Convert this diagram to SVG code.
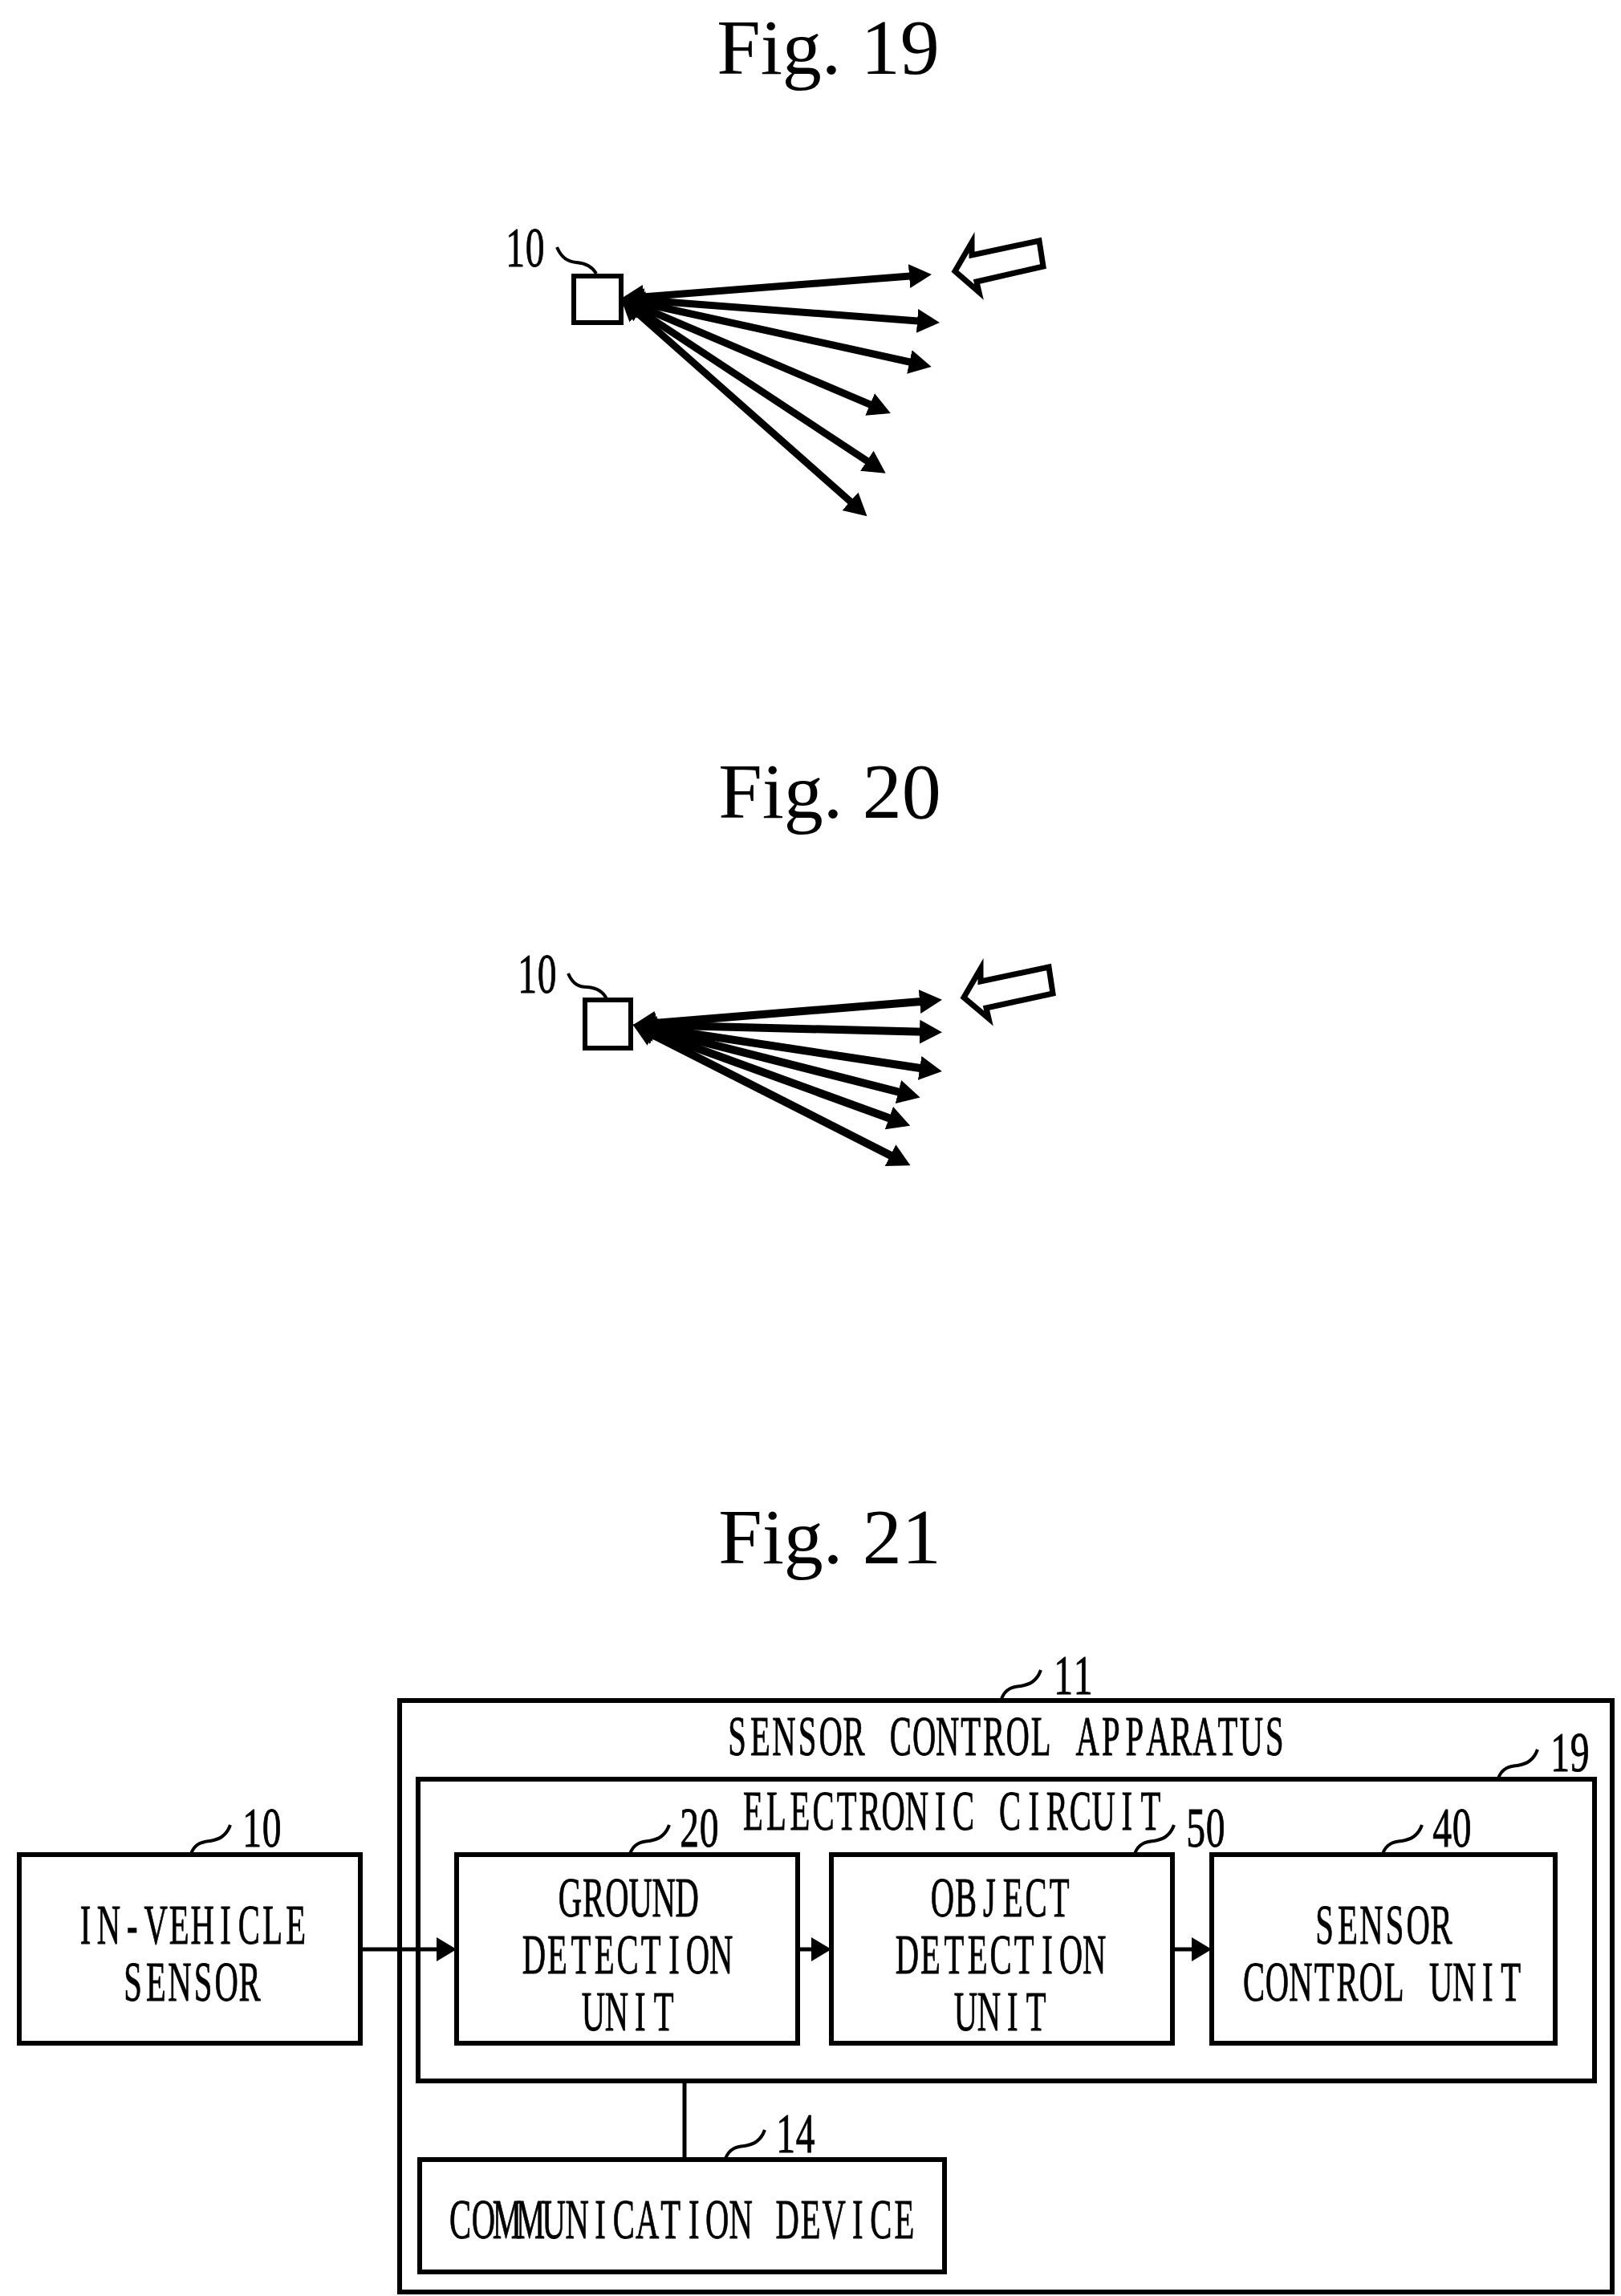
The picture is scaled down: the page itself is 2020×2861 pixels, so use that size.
<svg xmlns="http://www.w3.org/2000/svg" width="2020" height="2861" viewBox="0 0 2020 2861">
<style>
text{font-family:"Liberation Serif","Times New Roman",serif;fill:#000}
.title{font-size:98px;text-anchor:middle}
.lab{font-size:70px;text-anchor:middle;stroke:#000;stroke-width:.9}
.box{fill:none;stroke:#000;stroke-width:6}
.lead{fill:none;stroke:#000;stroke-width:4}
.ray{stroke:#000;stroke-width:9;marker-start:url(#ah);marker-end:url(#ah)}
.thick{stroke-width:10}
.flow{stroke:#000;stroke-width:5;fill:none}
.flowa{marker-end:url(#fh)}
.fat{fill:#fff;stroke:#000;stroke-width:7;stroke-linejoin:miter}
</style>
<defs>
<marker id="ah" markerUnits="userSpaceOnUse" markerWidth="32" markerHeight="32" refX="14" refY="16" orient="auto-start-reverse" viewBox="0 0 32 32"><path d="M0,1 L28,16 L0,31 Z" fill="#000"/></marker>
<marker id="fh" markerUnits="userSpaceOnUse" markerWidth="26" markerHeight="32" refX="0" refY="16" orient="auto" viewBox="0 0 26 32"><path d="M0,1 L25,16 L0,31 Z" fill="#000"/></marker>
<path id="tilde" d="M0,0 C5,-14 15,-15 24,-16 C35,-18 44,-22 49,-36"/>
</defs>
<g id="titles">
<text class="title" x="1032" y="92">Fig. 19</text>
<text class="title" x="1034" y="1019">Fig. 20</text>
<text class="title" x="1034" y="1948">Fig. 21</text>
</g>
<g id="fig19-sensor">
<rect class="box" x="715" y="344" width="59" height="58"/>
<path class="lead" d="M694,308 C700,322 708,326 718,327 C730,328 738,332 743,341"/>
<text class="lab" transform="translate(630,332) scale(.68,1)" x="18 54">10</text>
</g>
<g id="fig19-arrow"><path class="fat" d="M1190,338 L1211,302 L1211,318 L1295,300 L1300,332 L1217,351 L1220,364 Z"/></g>
<g id="fig19-connectors">
<line class="ray" x1="788" y1="371" x2="1147" y2="343"/>
<line class="ray" x1="788" y1="373" x2="1157" y2="401"/>
<line class="ray" x1="788" y1="375" x2="1147" y2="454"/>
<line class="ray" x1="787" y1="377.5" x2="1097" y2="509.5"/>
<line class="ray" x1="786" y1="380" x2="1092" y2="582"/>
<line class="ray" x1="784" y1="381" x2="1070" y2="634"/>
</g>
<g id="fig20-sensor">
<rect class="box" x="729" y="1246" width="57" height="60"/>
<path class="lead" d="M708,1213 C714,1227 722,1230 732,1230 C744,1231 752,1236 756,1245"/>
<text class="lab" transform="translate(645,1237) scale(.68,1)" x="18 54">10</text>
</g>
<g id="fig20-arrow"><path class="fat" d="M1201,1243 L1222,1207 L1222,1223 L1307,1205 L1312,1238 L1229,1256 L1232,1269 Z"/></g>
<g id="fig20-connectors">
<line class="ray thick" x1="803" y1="1276" x2="1160" y2="1247"/>
<line class="ray thick" x1="803" y1="1277" x2="1160" y2="1286"/>
<line class="ray thick" x1="803" y1="1279" x2="1160" y2="1333"/>
<line class="ray thick" x1="803" y1="1280" x2="1133" y2="1364"/>
<line class="ray thick" x1="802" y1="1282" x2="1121" y2="1398"/>
<line class="ray thick" x1="801" y1="1283" x2="1122" y2="1446"/>
</g>
<g id="sensor-control-apparatus">
<rect class="box" x="498" y="2119" width="1511" height="737"/>
<text class="lab" transform="translate(904,2187) scale(.58,1)" x="25 75 125.5 176 226 276 326 376.5 427 477 527 577 628 678 728 778 828 879 929 979 1029 1079 1130 1180">SENSOR CONTROL APPARATUS</text>
<use href="#tilde" x="1248" y="2117" class="lead"/>
<text class="lab" transform="translate(1313,2111) scale(.68,1)" x="18 54">11</text>
</g>
<g id="electronic-circuit">
<rect class="box" x="521" y="2217" width="1466" height="376"/>
<text class="lab" transform="translate(924,2280) scale(.58,1)" x="25 75 125.5 176 226 276 326 376.5 427 477 527 577 628 678 728 778 828 879">ELECTRONIC CIRCUIT</text>
<use href="#tilde" x="1867" y="2216" class="lead"/>
<text class="lab" transform="translate(1932,2207) scale(.68,1)" x="18 54">19</text>
</g>
<g id="in-vehicle-sensor">
<rect class="box" x="24" y="2311" width="425" height="235"/>
<text class="lab" transform="translate(92,2422) scale(.58,1)" x="25 75 125.5 176 226 276 326 376.5 427 477">IN-VEHICLE</text>
<text class="lab" transform="translate(151,2493) scale(.58,1)" x="25 75 125.5 176 226 276">SENSOR</text>
<use href="#tilde" x="238" y="2310" class="lead"/>
<text class="lab" transform="translate(302,2301) scale(.68,1)" x="18 54">10</text>
</g>
<g id="ground-detection-unit">
<rect class="box" x="569" y="2311" width="425" height="235"/>
<text class="lab" transform="translate(696,2388) scale(.58,1)" x="25 75 125.5 176 226 276">GROUND</text>
<text class="lab" transform="translate(651,2459) scale(.58,1)" x="25 75 125.5 176 226 276 326 376.5 427">DETECTION</text>
<text class="lab" transform="translate(725,2530) scale(.58,1)" x="25 75 125.5 176">UNIT</text>
<use href="#tilde" x="785" y="2310" class="lead"/>
<text class="lab" transform="translate(847,2301) scale(.68,1)" x="18 54">20</text>
</g>
<g id="object-detection-unit">
<rect class="box" x="1036" y="2311" width="425" height="235"/>
<text class="lab" transform="translate(1160,2388) scale(.58,1)" x="25 75 125.5 176 226 276">OBJECT</text>
<text class="lab" transform="translate(1116,2459) scale(.58,1)" x="25 75 125.5 176 226 276 326 376.5 427">DETECTION</text>
<text class="lab" transform="translate(1189,2530) scale(.58,1)" x="25 75 125.5 176">UNIT</text>
<use href="#tilde" x="1414" y="2310" class="lead"/>
<text class="lab" transform="translate(1478,2301) scale(.68,1)" x="18 54">50</text>
</g>
<g id="sensor-control-unit">
<rect class="box" x="1510" y="2311" width="428" height="235"/>
<text class="lab" transform="translate(1636,2422) scale(.58,1)" x="25 75 125.5 176 226 276">SENSOR</text>
<text class="lab" transform="translate(1548,2493) scale(.58,1)" x="25 75 125.5 176 226 276 326 376.5 427 477 527 577">CONTROL UNIT</text>
<use href="#tilde" x="1723" y="2310" class="lead"/>
<text class="lab" transform="translate(1785,2301) scale(.68,1)" x="18 54">40</text>
</g>
<g id="communication-device">
<rect class="box" x="523" y="2691" width="654" height="140"/>
<text class="lab" transform="translate(559,2789) scale(.58,1)" x="25 75 125.5 176 226 276 326 376.5 427 477 527 577 628 678 728 778 828 879 929 979">COMMUNICATION DEVICE</text>
<use href="#tilde" x="904" y="2690" class="lead"/>
<text class="lab" transform="translate(967,2682) scale(.68,1)" x="18 54">14</text>
</g>
<g id="connectors">
<line class="flow flowa" x1="451" y1="2429" x2="544" y2="2429"/>
<line class="flow flowa" x1="997" y1="2429" x2="1011" y2="2429"/>
<line class="flow flowa" x1="1461" y1="2429" x2="1485" y2="2429"/>
<line class="flow" x1="853" y1="2594" x2="853" y2="2690"/>
</g>
</svg>
